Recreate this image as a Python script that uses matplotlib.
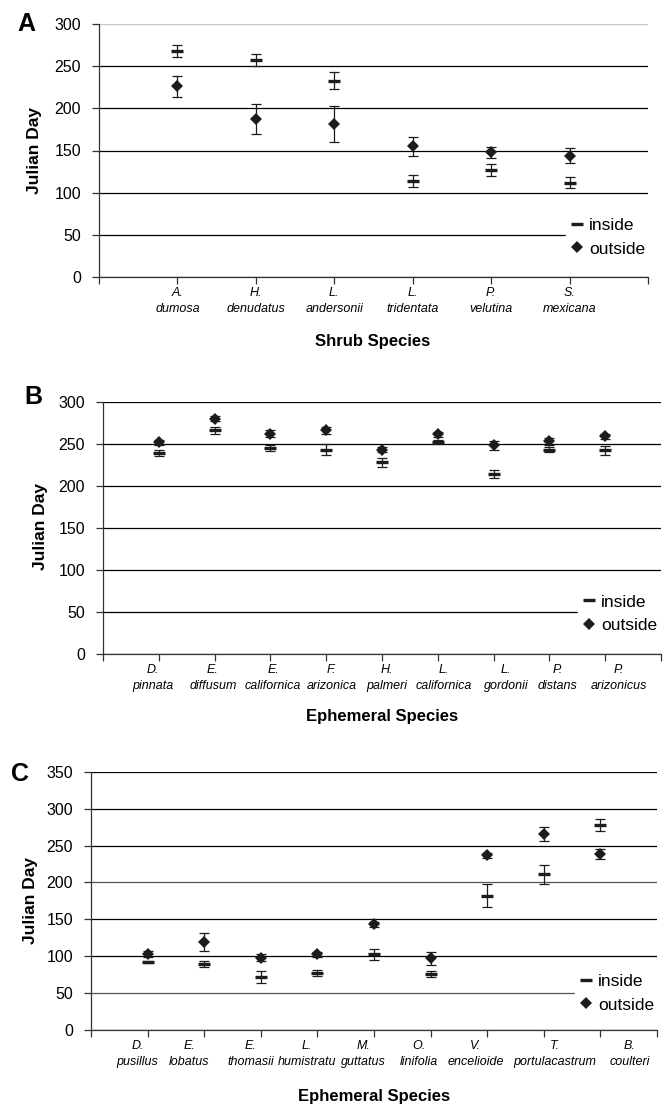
"""
Phenology figure: mean Julian day of flowering inside vs outside,
three panels (shrubs, two ephemeral groups), with error bars.
"""

import matplotlib
matplotlib.use("Agg")
import matplotlib.pyplot as plt
from matplotlib.lines import Line2D

plt.rcParams["font.family"] = ["Liberation Sans", "DejaVu Sans"]

# ── Data ──────────────────────────────────────────────────────────────────────

shrub_species = ["A.\ndumosa", "H.\ndenudatus", "L.\nandersonii",
                 "L.\ntridentata", "P.\nvelutina", "S.\nmexicana"]
shrub_inside = [268, 257, 233, 114, 127, 112]
shrub_inside_err = [7.5, 7, 10, 7, 7, 7]
shrub_outside = [226, 187, 181, 155, 148, 144]
shrub_outside_err = [12, 18, 21.5, 11, 6.5, 9]

eph_b_species = ["D.\npinnata", "E.\ndiffusum", "E.\ncalifornica",
                 "F.\narizonica", "H.\npalmeri", "L.\ncalifornica",
                 "L.\ngordonii", "P.\ndistans", "P.\narizonicus"]
eph_b_inside = [239, 266, 245, 243, 228, 252, 214, 243, 242]
eph_b_inside_err = [4, 4, 3.5, 6.5, 5.5, 2, 5, 3, 5]
eph_b_outside = [252, 280, 262, 266, 243, 261, 248, 253, 259]
eph_b_outside_err = [3, 3, 4, 4, 3, 3, 5, 4, 3]

eph_c_species = ["D.\npusillus", "E.\nlobatus", "E.\nthomasii",
                 "L.\nhumistratu", "M.\nguttatus", "O.\nlinifolia",
                 "V.\nencelioide", "T.\nportulacastrum", "B.\ncoulteri"]
eph_c_inside = [92, 89, 72, 77, 102.5, 76, 182, 211, 278]
eph_c_inside_err = [1.5, 4, 8, 4.5, 7.5, 4.5, 16, 12.5, 8.5]
eph_c_outside = [103, 119, 98, 102.5, 143, 97, 237, 265, 238.5]
eph_c_outside_err = [4.5, 12.5, 5, 3, 3.5, 9, 3.5, 9.5, 7]

# ── Layout (label centres are a bit off the ticks in the original) ───────────

label_pos_a = [1, 2, 3, 4, 5, 6]
label_pos_b = [0.9, 1.97, 3.05, 4.1, 5.09, 6.11, 7.22, 8.15, 9.25]
label_pos_c = [0.82, 1.74, 2.82, 3.82, 4.82, 5.8, 6.8, 8.2, 9.52]

W, H = 670, 1106
INK = "#1c1c1c"


def px_axes(left, top, right, bottom):
    return [left / W, 1 - bottom / H, (right - left) / W, (bottom - top) / H]


def draw_panel(ax, labels, label_pos, inside, inside_err, outside, outside_err,
               ymax, legend_anchor):
    n = len(inside)
    xs = list(range(1, n + 1))

    # error bars first (thin caps), markers on top
    for vals, errs in [(inside, inside_err), (outside, outside_err)]:
        ax.errorbar(xs, vals, yerr=errs, fmt="none", ecolor=INK,
                    elinewidth=0.9, capsize=3.5, capthick=0.9, zorder=3)
    ax.plot(xs, inside, ls="none", marker="_", ms=9, mew=2.4, color=INK,
            zorder=4)
    ax.plot(xs, outside, ls="none", marker="D", ms=6.5, mew=0, color=INK,
            zorder=4)

    ax.set_xlim(0, n + 1)
    ax.set_ylim(0, ymax)
    ax.set_yticks(range(0, ymax + 1, 50))
    ax.xaxis.remove_overlapping_locs = False
    ax.set_xticks(range(0, n + 2))
    ax.set_xticklabels([])
    ax.set_xticks(label_pos, minor=True)
    ax.set_xticklabels(labels, minor=True, fontsize=9, style="italic",
                       linespacing=1.5)
    ax.tick_params(axis="x", which="major", direction="out", length=5,
                   width=0.9, color="#333333")
    ax.tick_params(axis="x", which="minor", length=0, pad=7)
    ax.tick_params(axis="y", direction="out", length=5, width=0.9,
                   color="#333333", labelsize=11.5, pad=8)

    for side in ("top", "right"):
        ax.spines[side].set_visible(False)
    for side in ("left", "bottom"):
        ax.spines[side].set_linewidth(0.9)
        ax.spines[side].set_color("#333333")

    ax.yaxis.grid(True, color="black", linewidth=0.9)
    ax.set_axisbelow(True)

    handles = [
        Line2D([], [], marker="_", ms=9, mew=2.4, ls="none", color=INK),
        Line2D([], [], marker="D", ms=6.5, mew=0, ls="none", color=INK),
    ]
    ax.legend(handles, ["inside", "outside"], loc="center left",
              bbox_to_anchor=legend_anchor, frameon=True, facecolor="white",
              edgecolor="white", framealpha=1, fancybox=False, fontsize=12.5,
              handlelength=0.7, handletextpad=0.35, labelspacing=0.5,
              borderpad=0.3, borderaxespad=0)


fig = plt.figure(figsize=(W / 100, H / 100), dpi=100)

ax_a = fig.add_axes(px_axes(99, 24, 648, 277))
draw_panel(ax_a, shrub_species, label_pos_a, shrub_inside, shrub_inside_err,
           shrub_outside, shrub_outside_err, 300, (0.85, 0.158))
ax_a.get_ygridlines()[-1].set_color("#c8c8c8")

ax_b = fig.add_axes(px_axes(103, 401.7, 661, 654))
draw_panel(ax_b, eph_b_species, label_pos_b, eph_b_inside, eph_b_inside_err,
           eph_b_outside, eph_b_outside_err, 300, (0.851, 0.159))

ax_c = fig.add_axes(px_axes(91, 771.7, 657, 1030))
draw_panel(ax_c, eph_c_species, label_pos_c, eph_c_inside, eph_c_inside_err,
           eph_c_outside, eph_c_outside_err, 350, (0.855, 0.143))
for i in (1, 4):
    ax_c.get_ygridlines()[i].set_color("#555555")

# panel letters, axis titles (placed in pixel coordinates)
for letter, x, y in [("A", 26, 24), ("B", 33, 397), ("C", 20, 774)]:
    fig.text(x / W, 1 - y / H, letter, fontsize=18, fontweight="bold",
             ha="center", va="center")

for x, y in [(34, 151), (40, 527), (31, 900)]:
    fig.text(x / W, 1 - y / H, "Julian Day", fontsize=12.5, fontweight="bold",
             rotation=90, ha="center", va="center")

for text, x, y in [("Shrub Species", 373, 341), ("Ephemeral Species", 382, 717),
                   ("Ephemeral Species", 374, 1097)]:
    fig.text(x / W, 1 - y / H, text, fontsize=12, fontweight="bold",
             ha="center", va="center")

fig.savefig("out.png", dpi=100)
